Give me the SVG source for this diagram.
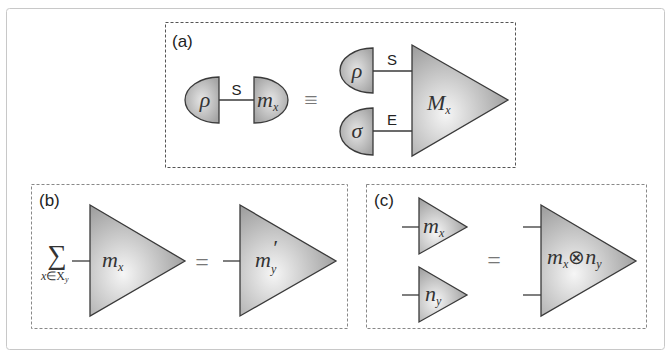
<svg xmlns="http://www.w3.org/2000/svg" width="671" height="358" viewBox="0 0 671 358">
<style>
.shape{stroke:#3a3a3a;stroke-width:1.3;fill:url(#g)}
.disc{stroke:#3a3a3a;stroke-width:1.3;fill:url(#gd)}
.wire{stroke:#3a3a3a;stroke-width:1.3;fill:none}
.box{fill:none;stroke:#555;stroke-width:1;stroke-dasharray:3,2}
.box2{fill:none;stroke:#888;stroke-width:1;stroke-dasharray:3,2}
.lbl{font-family:"Liberation Sans",Arial,sans-serif;font-size:17px;fill:#222}
.wl{font-family:"Liberation Sans",Arial,sans-serif;font-size:15px;fill:#222;text-anchor:middle}
.m{font-family:"Liberation Serif","Times New Roman",serif;font-style:italic;font-size:22px;fill:#333}
.sub{font-size:12px}
.eq{font-family:"Liberation Serif",serif;font-size:24px;fill:#777;text-anchor:middle}
</style>
<defs>
<radialGradient id="g" cx="0.35" cy="0.62" r="0.75">
<stop offset="0" stop-color="#f6f6f6"/>
<stop offset="1" stop-color="#959595"/>
</radialGradient>
<radialGradient id="gd" cx="0.5" cy="0.5" r="0.6">
<stop offset="0" stop-color="#e6e6e6"/>
<stop offset="1" stop-color="#a5a5a5"/>
</radialGradient>
</defs>
<rect x="6.5" y="8.5" width="658" height="341" rx="3" fill="#fff" stroke="#c8c8c8" stroke-width="1"/>

<g id="panel-a">
<rect class="box" x="165.5" y="22.5" width="350" height="145"/>
<text class="lbl" x="172" y="47">(a)</text>
</g>
<g id="panel-b">
<rect class="box2" x="31.5" y="184.5" width="316" height="144"/>
<text class="lbl" x="39" y="206">(b)</text>
</g>
<g id="panel-c">
<rect class="box2" x="366.5" y="184.5" width="280" height="144"/>
<text class="lbl" x="374" y="206">(c)</text>
</g>

<g id="connectors">
<line class="wire" x1="219" y1="100" x2="254" y2="100"/>
<line class="wire" x1="373" y1="71" x2="412" y2="71"/>
<line class="wire" x1="373" y1="131" x2="412" y2="131"/>
<line class="wire" x1="72" y1="261" x2="90" y2="261"/>
<line class="wire" x1="223" y1="261" x2="240" y2="261"/>
<line class="wire" x1="402" y1="227" x2="419" y2="227"/>
<line class="wire" x1="402" y1="295" x2="419" y2="295"/>
<line class="wire" x1="523" y1="227" x2="541" y2="227"/>
<line class="wire" x1="523" y1="295" x2="541" y2="295"/>
<text class="wl" x="236.5" y="95">S</text>
<text class="wl" x="392" y="65">S</text>
<text class="wl" x="392" y="125">E</text>
</g>

<g id="rho-left">
<path class="disc" d="M219,77 L219,123 A34,23 0 0 1 219,77 Z"/>
<text class="m" x="205" y="107" text-anchor="middle">ρ</text>
</g>
<g id="mx-left">
<path class="disc" d="M254,77 A34,23 0 0 1 254,123 Z"/>
<text class="m" x="257" y="107">m<tspan class="sub" dy="4">x</tspan></text>
</g>
<text class="eq" x="311" y="108">≡</text>

<g id="rho-right">
<path class="disc" d="M373,48 L373,93 A33,22.5 0 0 1 373,48 Z"/>
<text class="m" x="357" y="78" text-anchor="middle">ρ</text>
</g>
<g id="sigma-right">
<path class="disc" d="M373,108 L373,155 A33,23.5 0 0 1 373,108 Z"/>
<text class="m" x="357" y="138" text-anchor="middle">σ</text>
</g>
<g id="Mx">
<path class="shape" d="M412,45 L508,100 L412,156 Z"/>
<text class="m" x="427" y="110">M<tspan class="sub" dy="4">x</tspan></text>
</g>

<g id="sum-mx">
<text x="57" y="264" text-anchor="middle" font-family="Liberation Serif,serif" font-size="27" fill="#333">∑</text>
<text x="41" y="280" font-family="Liberation Serif,serif" font-size="12" fill="#333"><tspan font-style="italic">x</tspan>∈X<tspan font-style="italic" font-size="8" dy="2">y</tspan></text>
<path class="shape" d="M90,205 L185,261 L90,316 Z"/>
<text class="m" x="102" y="267">m<tspan class="sub" dy="4">x</tspan></text>
</g>
<text class="eq" x="202" y="270">=</text>
<g id="my-prime">
<path class="shape" d="M240,205 L336,261 L240,316 Z"/>
<text class="m" x="255" y="267">m</text>
<text class="m" x="272" y="255" font-size="14">′</text>
<text class="m sub" x="271" y="273">y</text>
</g>

<g id="mx-small">
<path class="shape" d="M419,198 L467,227 L419,254 Z"/>
<text class="m" x="423" y="233" font-size="20">m<tspan class="sub" dy="4">x</tspan></text>
</g>
<g id="ny-small">
<path class="shape" d="M419,267 L467,295 L419,322 Z"/>
<text class="m" x="425" y="301" font-size="20">n<tspan class="sub" dy="4">y</tspan></text>
</g>
<text class="eq" x="494" y="268">=</text>
<g id="mx-ny">
<path class="shape" d="M541,205 L636,261 L541,316 Z"/>
<text class="m" x="547" y="264">m<tspan class="sub" dy="4">x</tspan><tspan font-style="normal" font-size="20" dy="-4">⊗</tspan>n<tspan class="sub" dy="4">y</tspan></text>
</g>
</svg>
